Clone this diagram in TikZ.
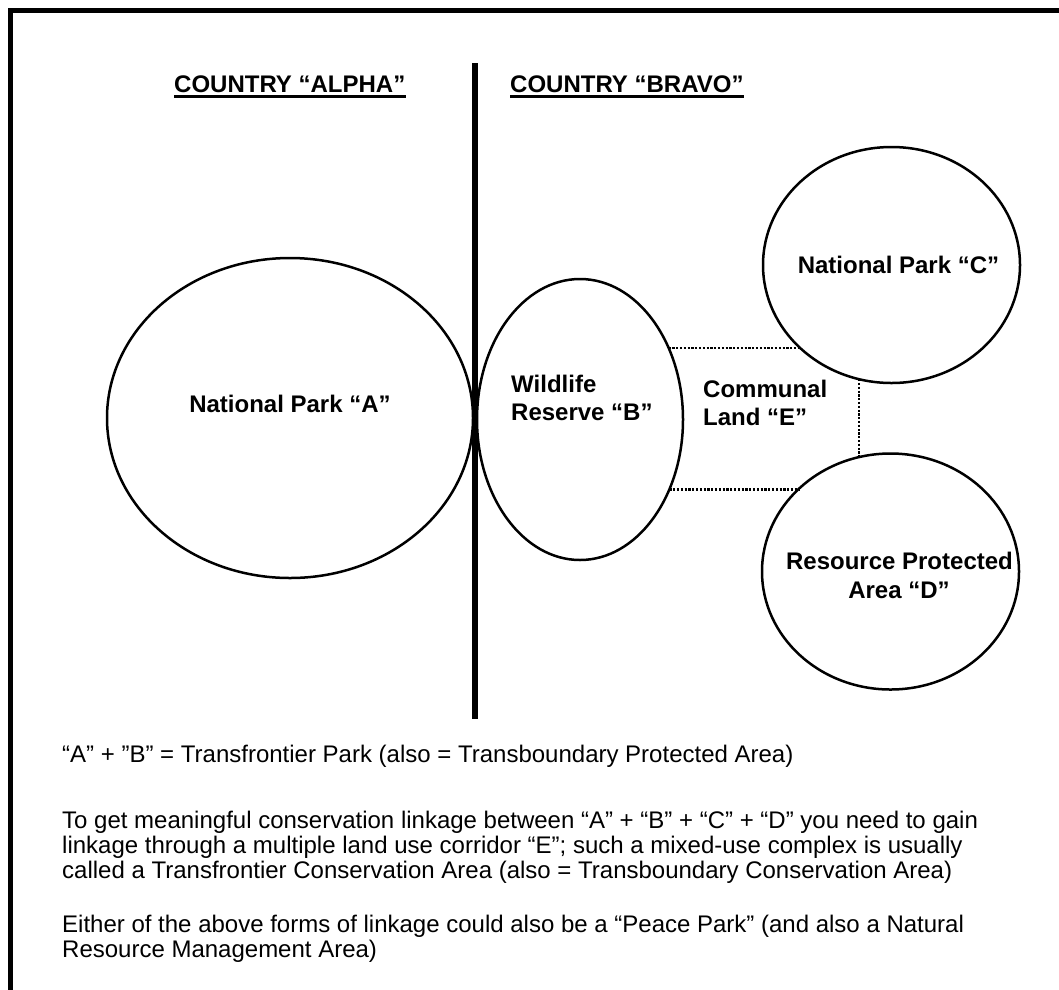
\documentclass[tikz,border=0pt]{standalone}
\usepackage{fontspec}
\setmainfont{Liberation Sans}
\usetikzlibrary{shapes.geometric}
\begin{document}
\begin{tikzpicture}[x=1pt,y=-1pt,
  area/.style={draw, ellipse, line width=2.5pt, inner sep=0pt, outer sep=0pt},
  lbl/.style={font=\fontsize{24}{28}\selectfont\bfseries, inner sep=0pt},
  body/.style={font=\fontsize{24}{28}\selectfont, inner sep=0pt, anchor=base west},
  link/.style={line width=2.4pt, dash pattern=on 2.2pt off 1.6pt},
  rule/.style={line width=2.8pt}
]
\useasboundingbox (0,0) rectangle (1059,989);
\fill[white] (0,0) rectangle (1059,989);

\begin{scope}
  \clip (0,0) rectangle (1059,989);
  % outer frame (only top and left edges fall inside the page)
  \coordinate (frameBL) at (10.8,1010);
  \coordinate (frameTL) at (10.8,10.8);
  \coordinate (frameTR) at (1080,10.8);
  \draw[line width=5pt, line join=miter] (frameBL) -- (frameTL) -- (frameTR);

  % border between the two countries
  \coordinate (divtop) at (475,63);
  \coordinate (divbot) at (475,719);
  \draw[line width=5.5pt] (divtop) -- (divbot);

  % country headings
  \node[lbl, anchor=base west] (hA) at (174,92) {COUNTRY “ALPHA”};
  \node[lbl, anchor=base west] (hB) at (510,92) {COUNTRY “BRAVO”};
  \draw[rule] ([yshift=-4.5pt]hA.base west) -- ([yshift=-4.5pt]hA.base east);
  \draw[rule] ([yshift=-4.5pt]hB.base west) -- ([yshift=-4.5pt]hB.base east);

  % protected areas
  \node[area, minimum width=366pt, minimum height=320pt] (A) at (290,418) {};
  \node[area, minimum width=206pt, minimum height=281pt] (B) at (580,419.5) {};
  \node[area, minimum width=257pt, minimum height=236pt] (C) at (891.5,265) {};
  \node[area, minimum width=257pt, minimum height=236pt] (D) at (890.5,571.5) {};

  % communal land corridor
  \draw[link] (B.39) -- (B.39 -| C.222);
  \draw[link] (B.322) -- (B.322 -| D.138);
  \draw[link] (C.254) -- (C.254 |- D.105);

  % area labels
  \node[lbl, anchor=base] (lblA) at (290,412) {National Park “A”};
  \node[lbl, anchor=base west] (lblB1) at (511,392) {Wildlife};
  \node[lbl, anchor=base west] (lblB2) at (511,420) {Reserve “B”};
  \node[lbl, anchor=base west] (lblE1) at (703,397) {Communal};
  \node[lbl, anchor=base west] (lblE2) at (703,425) {Land “E”};
  \node[lbl, anchor=base] (lblC) at (898.5,273) {National Park “C”};
  \node[lbl, anchor=base] (lblD1) at (899.5,569) {Resource Protected};
  \node[lbl, anchor=base] (lblD2) at (899,598) {Area “D”};
\end{scope}

% explanatory notes
\begin{scope}
  \clip (0,0) rectangle (1059,961);
  \node[body] (t1) at (62,762) {“A” + ”B” = Transfrontier Park (also = Transboundary Protected Area)};
  \node[body] (t2) at (62,828) {To get meaningful conservation linkage between “A” + “B” + “C” + “D” you need to gain};
  \node[body] (t3) at (62,853) {linkage through a multiple land use corridor “E”; such a mixed-use complex is usually};
  \node[body] (t4) at (62,878) {called a Transfrontier Conservation Area (also = Transboundary Conservation Area)};
  \node[body] (t5) at (62,932) {Either of the above forms of linkage could also be a “Peace Park” (and also a Natural};
  \node[body] (t6) at (62,957) {Resource Management Area)};
\end{scope}
\end{tikzpicture}
\end{document}
